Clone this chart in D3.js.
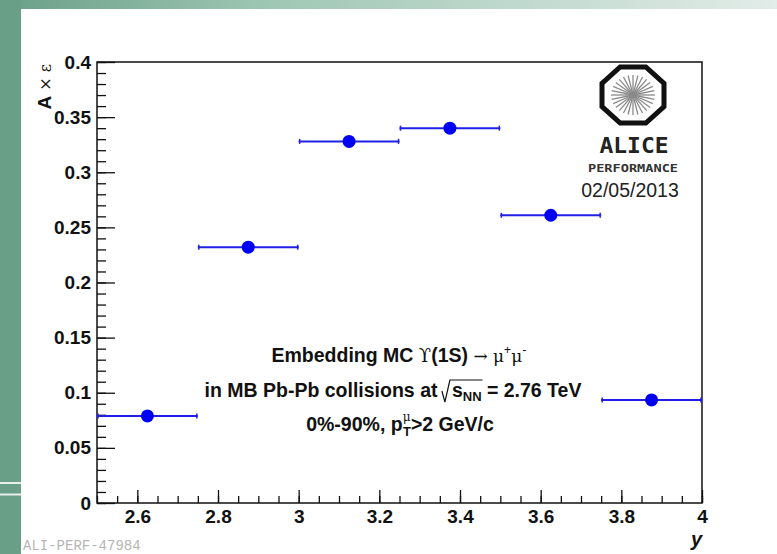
<!DOCTYPE html>
<html>
<head>
<meta charset="utf-8">
<script src="https://cdn.jsdelivr.net/npm/d3@7"></script>
<style>
body { margin: 0; background: #fff; }
svg { display: block; font-family: "Liberation Sans", Arial, sans-serif; }
</style>
</head>
<body>
<svg width="777" height="554"></svg>
<script>
var svg = d3.select('svg');
var width = 777;
var height = 554;

// rapidity bins and A x eps
var binLow = [2.5, 2.75, 3.0, 3.25, 3.5, 3.75];
var binHigh = [2.75, 3.0, 3.25, 3.5, 3.75, 4.0];
var binCenter = [2.625, 2.875, 3.125, 3.375, 3.625, 3.875];
var accEff = [0.079, 0.232, 0.328, 0.340, 0.261, 0.0935];

var yMajor = [0, 0.05, 0.1, 0.15, 0.2, 0.25, 0.3, 0.35, 0.4];
var yLabels = ['0', '0.05', '0.1', '0.15', '0.2', '0.25', '0.3', '0.35', '0.4'];
var xMajor = [2.6, 2.8, 3.0, 3.2, 3.4, 3.6, 3.8, 4.0];
var xLabels = ['2.6', '2.8', '3', '3.2', '3.4', '3.6', '3.8', '4'];

var x = d3.scaleLinear().domain([2.5, 4]).range([97, 702]);
var y = d3.scaleLinear().domain([0, 0.4]).range([503, 62]);

var sans = '"Liberation Sans", Arial, sans-serif';
var greek = '"DejaVu Serif", "Liberation Serif", serif';

// page background (slide style)
var defs = svg.append('defs');
var grad = defs.append('linearGradient').attr('id', 'topgrad')
	.attr('x1', '0%').attr('x2', '100%').attr('y1', '0%').attr('y2', '0%');
grad.append('stop').attr('offset', '0%').attr('stop-color', '#6a9f87');
grad.append('stop').attr('offset', '35%').attr('stop-color', '#9fc7b4');
grad.append('stop').attr('offset', '100%').attr('stop-color', '#e2ece8');

svg.append('rect').attr('x', 0).attr('y', 0).attr('width', width).attr('height', height).attr('fill', '#fff');
svg.append('rect').attr('x', 0).attr('y', 0).attr('width', width).attr('height', 9).attr('fill', 'url(#topgrad)');
svg.append('rect').attr('x', 0).attr('y', 0).attr('width', 21).attr('height', height).attr('fill', '#6a9f87');
svg.append('rect').attr('x', 0).attr('y', 482).attr('width', 21).attr('height', 2).attr('fill', '#e8f0ec');
svg.append('rect').attr('x', 0).attr('y', 493.5).attr('width', 21).attr('height', 2).attr('fill', '#e8f0ec');

// frame
svg.append('rect')
.attr('x', x(2.5)).attr('y', y(0.4))
.attr('width', x(4) - x(2.5)).attr('height', y(0) - y(0.4))
.attr('fill', 'none').attr('stroke', '#111').attr('stroke-width', 1.5);

// y axis
var yMinor = d3.range(0, 41).map(function(i){ return i / 100; });
svg.append('g').attr('transform', 'translate(' + x(2.5) + ',0)')
.call(d3.axisLeft(y).tickValues(yMinor).tickSize(-9).tickFormat(''))
.call(function(g){ g.select('.domain').remove(); });
var yAx = svg.append('g').attr('transform', 'translate(' + x(2.5) + ',0)')
.call(d3.axisLeft(y).tickValues(yMajor).tickSize(-18).tickPadding(6)
	.tickFormat(function(d, i){ return yLabels[i]; }));
yAx.select('.domain').remove();

// x axis
var xMinor = d3.range(0, 31).map(function(i){ return 2.5 + i * 0.05; });
svg.append('g').attr('transform', 'translate(0,' + y(0) + ')')
.call(d3.axisBottom(x).tickValues(xMinor).tickSize(-7).tickFormat(''))
.call(function(g){ g.select('.domain').remove(); });
var xAx = svg.append('g').attr('transform', 'translate(0,' + y(0) + ')')
.call(d3.axisBottom(x).tickValues(xMajor).tickSize(-13).tickPadding(7)
	.tickFormat(function(d, i){ return xLabels[i]; }));
xAx.select('.domain').remove();

svg.selectAll('.tick line').attr('stroke', '#111').attr('stroke-width', 1.3);
svg.selectAll('g').attr('font-family', sans);
svg.selectAll('.tick text')
.attr('font-size', '19px').attr('font-weight', 'bold').attr('fill', '#111');

// axis titles
var yt = svg.append('text')
.attr('transform', 'translate(51,64) rotate(-90)')
.attr('text-anchor', 'end').attr('font-size', '19px').attr('fill', '#111');
yt.append('tspan').attr('font-weight', 'bold').text('A');
yt.append('tspan').attr('font-family', greek).attr('font-size', '16px').text(' \u00d7 \u03b5');

svg.append('text').attr('x', 702).attr('y', 546)
.attr('text-anchor', 'end').attr('font-size', '20px')
.attr('font-weight', 'bold').attr('font-style', 'italic').attr('fill', '#111')
.text('y');

// data: horizontal error bars + markers
var pts = binCenter.map(function(c, i){
	return {'c': c, 'lo': binLow[i], 'hi': binHigh[i], 'v': accEff[i]};
});
var blue = '#1f1fe8';
svg.selectAll('line.err').data(pts).enter().append('line')
.attr('x1', function(d){ return x(d.lo); })
.attr('x2', function(d){ return x(d.hi); })
.attr('y1', function(d){ return y(d.v); })
.attr('y2', function(d){ return y(d.v); })
.attr('stroke', blue).attr('stroke-width', 2);
svg.selectAll('line.capl').data(pts).enter().append('line')
.attr('x1', function(d){ return x(d.lo) + 1; })
.attr('x2', function(d){ return x(d.lo) + 1; })
.attr('y1', function(d){ return y(d.v) - 2.5; })
.attr('y2', function(d){ return y(d.v) + 2.5; })
.attr('stroke', blue).attr('stroke-width', 1.5);
svg.selectAll('line.capr').data(pts).enter().append('line')
.attr('x1', function(d){ return x(d.hi) - 1; })
.attr('x2', function(d){ return x(d.hi) - 1; })
.attr('y1', function(d){ return y(d.v) - 2.5; })
.attr('y2', function(d){ return y(d.v) + 2.5; })
.attr('stroke', blue).attr('stroke-width', 1.5);
svg.selectAll('circle.pt').data(pts).enter().append('circle')
.attr('cx', function(d){ return x(d.c); })
.attr('cy', function(d){ return y(d.v); })
.attr('r', 6.5).attr('fill', '#0000f5');

// annotation
var cx = 399;
var fs = '19.5px';
var l1 = svg.append('text').attr('x', cx).attr('y', 362)
.attr('text-anchor', 'middle').attr('font-size', fs).attr('font-weight', 'bold').attr('fill', '#111');
l1.append('tspan').text('Embedding MC ');
l1.append('tspan').attr('font-weight', 'normal').attr('font-family', greek).attr('font-size', '18px').text('\u03d2');
l1.append('tspan').text('(1S) ');
l1.append('tspan').attr('font-weight', 'normal').attr('font-family', greek).attr('font-size', '17px').text('\u2192 \u03bc');
l1.append('tspan').attr('font-weight', 'normal').attr('font-size', '12px').attr('dy', -8).text('+');
l1.append('tspan').attr('font-weight', 'normal').attr('font-family', greek).attr('font-size', '17px').attr('dy', 8).text('\u03bc');
l1.append('tspan').attr('font-weight', 'normal').attr('font-size', '13px').attr('dy', -8).text('-');

var pre2 = 'in MB Pb-Pb collisions at ';
var l2 = svg.append('text').attr('x', cx - 6).attr('y', 397)
.attr('text-anchor', 'middle').attr('font-size', fs).attr('font-weight', 'bold').attr('fill', '#111');
l2.append('tspan').text(pre2);
l2.append('tspan').attr('dx', 9).text('s');
l2.append('tspan').attr('font-size', '13px').attr('dy', 4).text('NN');
l2.append('tspan').attr('dy', -4).text(' = 2.76 TeV');
var n2 = l2.node();
var sPos = n2.getStartPositionOfChar(pre2.length);
var nEnd = n2.getEndPositionOfChar(pre2.length + 2);
svg.append('path')
.attr('d', 'M' + (sPos.x - 10) + ',' + (397 - 6) + 'L' + (sPos.x - 7) + ',' + (397 + 5) +
	'L' + (sPos.x - 2) + ',' + (397 - 17) + 'L' + (nEnd.x + 1) + ',' + (397 - 17))
.attr('fill', 'none').attr('stroke', '#111').attr('stroke-width', 1.2);

var l3 = svg.append('text').attr('x', cx + 1).attr('y', 431)
.attr('text-anchor', 'middle').attr('font-size', fs).attr('font-weight', 'bold').attr('fill', '#111');
l3.append('tspan').text('0%-90%, p');
l3.append('tspan').attr('font-weight', 'normal').attr('font-family', greek).attr('font-size', '12px').attr('dy', -10).text('\u03bc');
l3.append('tspan').attr('font-size', '13px').attr('dx', -7.5).attr('dy', 15).text('T');
l3.append('tspan').attr('dy', -5).text('>2 GeV/c');

// ALICE performance logo
var lx = 633, ly = 95;
var oct = d3.range(8).map(function(i){
	var a = Math.PI / 8 + i * Math.PI / 4;
	return [lx + 31 * Math.cos(a) / Math.cos(Math.PI / 8), ly + 28 * Math.sin(a) / Math.cos(Math.PI / 8)];
});
svg.append('path').attr('d', 'M' + oct.join('L') + 'Z')
.attr('fill', '#fff').attr('stroke', '#111').attr('stroke-width', 5).attr('stroke-linejoin', 'miter');
var spokes = d3.range(28);
svg.selectAll('line.spoke').data(spokes).enter().append('line')
.attr('x1', lx).attr('y1', ly)
.attr('x2', function(d){ return lx + 22 * Math.cos(d * Math.PI / 14); })
.attr('y2', function(d){ return ly + 20 * Math.sin(d * Math.PI / 14); })
.attr('stroke', '#8a8a8a').attr('stroke-width', 1.3);

svg.append('text').attr('x', 634).attr('y', 153)
.attr('text-anchor', 'middle').attr('font-family', '"DejaVu Sans Mono", monospace')
.attr('font-size', '21px').attr('font-weight', 'bold').attr('fill', '#222')
.attr('textLength', 69).attr('lengthAdjust', 'spacingAndGlyphs')
.text('ALICE');
svg.append('text').attr('x', 633).attr('y', 172)
.attr('text-anchor', 'middle').attr('font-family', '"DejaVu Sans Mono", monospace')
.attr('font-size', '10px').attr('font-weight', 'bold').attr('fill', '#333')
.attr('textLength', 90).attr('lengthAdjust', 'spacingAndGlyphs')
.text('PERFORMANCE');
svg.append('text').attr('x', 630).attr('y', 197)
.attr('text-anchor', 'middle').attr('font-size', '19.5px').attr('fill', '#222')
.text('02/05/2013');

// figure id
svg.append('text').attr('x', 23).attr('y', 550)
.attr('font-family', '"Liberation Mono", "DejaVu Sans Mono", monospace').attr('font-size', '14px')
.attr('fill', '#b5b5b5').text('ALI-PERF-47984');
</script>
</body>
</html>
